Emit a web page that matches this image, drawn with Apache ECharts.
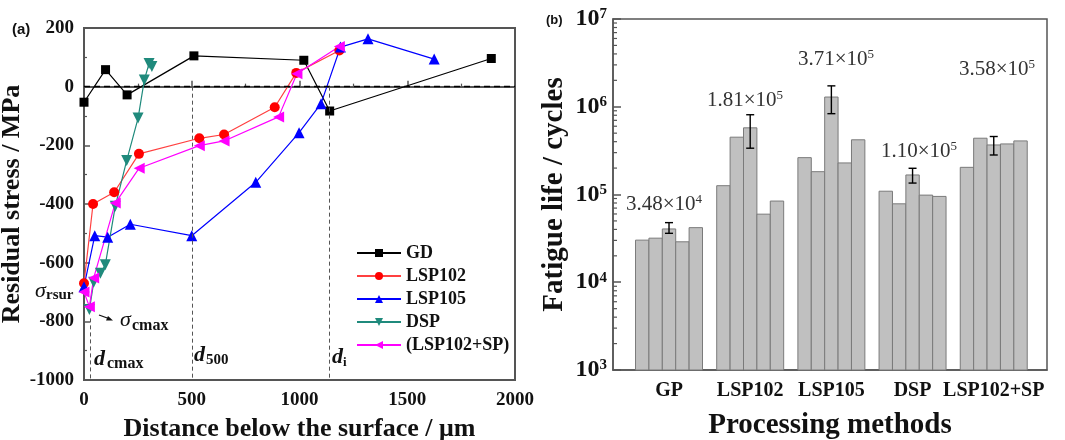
<!DOCTYPE html>
<html><head><meta charset="utf-8">
<script src="https://cdn.jsdelivr.net/npm/echarts@6/dist/echarts.min.js"></script>
<style>html,body{margin:0;padding:0;background:#fff}#c{width:1065px;height:440px}</style>
</head><body><div id="c"></div>
<script>
// ---------- Data: panel (a) residual stress ----------
const seriesNames = ['GD', 'LSP102', 'LSP105', 'DSP', '(LSP102+SP)'];
const gd = [[0,-53],[100,58],[200,-28],[510,105],[1020,90],[1140,-83],[1890,96]];
const lsp102 = [[0,-670],[42,-400],[140,-360],[255,-229],[535,-176],[650,-163],[885,-70],[985,47],[1185,123]];
const lsp105 = [[0,-682],[50,-508],[110,-513],[215,-469],[500,-508],[797,-326],[998,-157],[1100,-58],[1190,135],[1318,163],[1625,94]];
const dsp = [[25,-760],[45,-667],[76,-636],[99,-607],[145,-408],[198,-252],[251,-107],[280,23],[302,79],[315,69]];
const lsp102sp = [[0,-700],[25,-750],[45,-652],[145,-397],[256,-278],[535,-201],[650,-185],[903,-103],[988,44],[1185,137]];
const zeroLine = 0;
const depthMarks = [30, 500, 1140];       // d_cmax, d500, d_i
const depthMarkTop = [-790, 0, 0];
const xTicksA = [0, 500, 1000, 1500, 2000];
const yTicksA = [-1000, -800, -600, -400, -200, 0, 200];

// ---------- Data: panel (b) fatigue life ----------
const categories = ['GP', 'LSP102', 'LSP105', 'DSP', 'LSP102+SP'];
const lifeGP = [30200, 31800, 40500, 28900, 41900];
const lifeLSP102 = [126000, 450000, 575000, 59700, 84200];
const lifeLSP105 = [263000, 182000, 1290000, 229000, 420000];
const lifeDSP = [109000, 78300, 167000, 98400, 95100];
const lifeLSP102SP = [204000, 438000, 367000, 377000, 408000];
const errLow = [36100, 337000, 834000, 135000, 282000];
const errHigh = [47800, 811000, 1730000, 199000, 458000];
const meanLabels = ['3.48×10', '1.81×10', '3.71×10', '1.10×10', '3.58×10'];
const meanExp = ['4', '5', '5', '5', '5'];
const yTicksB = [1e3, 1e4, 1e5, 1e6, 1e7];

// ---------- Build ----------
const lifeGroups = [lifeGP, lifeLSP102, lifeLSP105, lifeDSP, lifeLSP102SP];
const BW = 0.165;           // bar width in category units
const XMIN = 0.31, XMAX = 5.656;
const barData = [];
lifeGroups.forEach((g, i) => g.forEach((v, j) => barData.push([i + 1 + (j - 2) * BW, v])));
const errData = errLow.map((lo, i) => [i + 1, lo, errHigh[i]]);
const minorLog = [];
for (let d = 3; d < 7; d++) for (let k = 2; k <= 9; k++) minorLog.push([XMIN, k * Math.pow(10, d)]);

const serif = 'Liberation Serif';
const chart = echarts.init(document.getElementById('c'), null, {renderer: 'canvas'});

function lineSeries(name, data, color, symbol, rot, size, lineColor) {
  return {
    name, type: 'line', data, xAxisIndex: 0, yAxisIndex: 0,
    symbol, symbolSize: size, symbolRotate: rot,
    itemStyle: {color}, lineStyle: {color: lineColor || color, width: 1.2},
    emphasis: {disabled: true}, animation: false
  };
}
const sGD = lineSeries(seriesNames[0], gd, '#000', 'rect', 0, 9);
sGD.markLine = {
  silent: true, symbol: 'none', animation: false, label: {show: false},
  data: [
    {yAxis: zeroLine, lineStyle: {color: '#000', type: [6, 4], width: 1.3}},
    ...depthMarks.map((x, i) => [
      {coord: [x, depthMarkTop[i]], lineStyle: {color: '#555', type: [4, 3], width: 1}},
      {coord: [x, -1000]}
    ])
  ]
};

const axisCommonA = {
  axisLine: {show: true, lineStyle: {color: '#555', width: 2}},
  axisTick: {show: true, inside: true, length: 6, lineStyle: {color: '#555', width: 1.5}},
  minorTick: {show: true, splitNumber: 2, length: 3, lineStyle: {color: '#555', width: 1.2}},
  splitLine: {show: false},
  axisLabel: {fontFamily: serif, fontWeight: 'bold', fontSize: 19, color: '#111', formatter: v => String(v)}
};

const option = {
  animation: false,
  backgroundColor: '#fff',
  grid: [
    {left: 84, right: 550, top: 28, bottom: 60, show: true, borderColor: '#555', borderWidth: 2, backgroundColor: 'transparent', containLabel: false, outerBoundsMode: 'none'},
    {left: 613, right: 18, top: 19, bottom: 70, show: true, borderColor: '#555', borderWidth: 1.5, backgroundColor: 'transparent', containLabel: false, outerBoundsMode: 'none'}
  ],
  legend: {
    data: seriesNames, orient: 'vertical', left: 351, top: 239,
    itemWidth: 44, itemHeight: 10, itemGap: 5,
    textStyle: {fontFamily: serif, fontWeight: 'bold', fontSize: 18, color: '#111', lineHeight: 18}
  },
  xAxis: [
    Object.assign({}, axisCommonA, {
      type: 'value', gridIndex: 0, min: 0, max: 2000, interval: 500,
      axisLabel: Object.assign({}, axisCommonA.axisLabel, {margin: 11}),
      name: 'Distance below the surface / μm', nameLocation: 'middle', nameGap: 36,
      nameTextStyle: {fontFamily: serif, fontWeight: 'bold', fontSize: 26, color: '#111'}
    }),
    {
      type: 'value', gridIndex: 1, min: XMIN, max: XMAX,
      axisLine: {show: true, lineStyle: {color: '#555', width: 1.5}},
      axisTick: {show: false}, splitLine: {show: false},
      axisLabel: {
        customValues: [1, 2, 3, 4, 5], margin: 11,
        formatter: v => categories[Math.round(v) - 1] || '',
        fontFamily: serif, fontWeight: 'bold', fontSize: 20, color: '#111'
      },
      name: 'Processing methods', nameLocation: 'middle', nameGap: 41,
      nameTextStyle: {fontFamily: serif, fontWeight: 'bold', fontSize: 29, color: '#111'}
    }
  ],
  yAxis: [
    Object.assign({}, axisCommonA, {
      type: 'value', gridIndex: 0, min: -1000, max: 200, interval: 200,
      axisLabel: Object.assign({}, axisCommonA.axisLabel, {margin: 10}),
      name: 'Residual stress / MPa', nameLocation: 'middle', nameGap: 50, nameRotate: 90,
      nameTextStyle: {fontFamily: serif, fontWeight: 'bold', fontSize: 26, color: '#111'}
    }),
    {
      type: 'log', gridIndex: 1, min: 1e3, max: 1e7, logBase: 10,
      axisLine: {show: true, lineStyle: {color: '#555', width: 1.5}},
      axisTick: {show: true, inside: true, length: 8, lineStyle: {color: '#555', width: 1.5}},
      splitLine: {show: false},
      axisLabel: {
        margin: 6,
        formatter: v => '{b|10}{s|' + Math.round(Math.log10(v)) + '}',
        rich: {
          b: {fontFamily: serif, fontWeight: 'bold', fontSize: 24, color: '#111', lineHeight: 24},
          s: {fontFamily: serif, fontWeight: 'bold', fontSize: 15, color: '#111', verticalAlign: 'top', lineHeight: 24, padding: [0, 0, 10, 0]}
        }
      },
      name: 'Fatigue life / cycles', nameLocation: 'middle', nameGap: 44, nameRotate: 90,
      nameTextStyle: {fontFamily: serif, fontWeight: 'bold', fontSize: 29, color: '#111'}
    }
  ],
  series: [
    sGD,
    lineSeries(seriesNames[1], lsp102, '#ff0000', 'circle', 0, 10, '#ff4040'),
    lineSeries(seriesNames[2], lsp105, '#0000ff', 'triangle', 0, 11),
    lineSeries(seriesNames[3], dsp, '#1f8a7c', 'triangle', 180, 11),
    lineSeries(seriesNames[4], lsp102sp, '#ff00ff', 'triangle', 90, 11),
    {
      type: 'custom', xAxisIndex: 1, yAxisIndex: 1, data: barData, silent: true, z: 2,
      encode: {x: 0, y: 1},
      renderItem: (params, api) => {
        const x = api.value(0), y = api.value(1);
        const p1 = api.coord([x - BW / 2, y]);
        const p0 = api.coord([x + BW / 2, 1e3]);
        return {type: 'rect', shape: {x: p1[0], y: p1[1], width: p0[0] - p1[0], height: p0[1] - p1[1]},
          style: {fill: '#c0c0c0', stroke: '#7a7a7a', lineWidth: 1}};
      }
    },
    {
      type: 'custom', xAxisIndex: 1, yAxisIndex: 1, data: errData, silent: true, z: 3,
      encode: {x: 0, y: [1, 2]},
      renderItem: (params, api) => {
        const x = api.value(0);
        const lo = api.coord([x, api.value(1)]);
        const hi = api.coord([x, api.value(2)]);
        const c = 4;
        const st = {stroke: '#000', lineWidth: 1.4};
        return {type: 'group', children: [
          {type: 'line', shape: {x1: lo[0], y1: lo[1], x2: hi[0], y2: hi[1]}, style: st},
          {type: 'line', shape: {x1: lo[0] - c, y1: lo[1], x2: lo[0] + c, y2: lo[1]}, style: st},
          {type: 'line', shape: {x1: hi[0] - c, y1: hi[1], x2: hi[0] + c, y2: hi[1]}, style: st}
        ]};
      }
    },
    {
      type: 'custom', xAxisIndex: 1, yAxisIndex: 1, data: minorLog, silent: true, z: 4,
      encode: {x: 0, y: 1},
      renderItem: (params, api) => {
        const p = api.coord([api.value(0), api.value(1)]);
        return {type: 'line', shape: {x1: p[0], y1: p[1], x2: p[0] + 4, y2: p[1]}, style: {stroke: '#555', lineWidth: 1.2}};
      }
    }
  ],
  graphic: [
    {type: 'text', left: 12, top: 22, style: {text: '(a)', font: 'bold 15px Liberation Sans', fill: '#111'}},
    {type: 'text', left: 546, top: 14, style: {text: '(b)', font: 'bold 13px Liberation Sans', fill: '#111'}},
    {type: 'text', x: 35, y: 280, style: {text: 'σ', font: 'italic 22px Liberation Serif', fill: '#111'}},
    {type: 'text', x: 46, y: 288, style: {text: 'rsur', font: 'bold 15px Liberation Serif', fill: '#111'}},
    {type: 'polyline', shape: {points: [[99, 315], [110, 319]]}, style: {stroke: '#111', lineWidth: 1.3}},
    {type: 'polygon', shape: {points: [[113, 320.5], [106, 320.5], [108, 316]]}, style: {fill: '#111'}},
    {type: 'text', x: 120, y: 309, style: {text: 'σ', font: 'italic 22px Liberation Serif', fill: '#111'}},
    {type: 'text', x: 132, y: 318, style: {text: 'cmax', font: 'bold 16px Liberation Serif', fill: '#111'}},
    {type: 'text', x: 94, y: 348, style: {text: 'd', font: 'bold italic 22px Liberation Serif', fill: '#111'}},
    {type: 'text', x: 107, y: 356, style: {text: 'cmax', font: 'bold 16px Liberation Serif', fill: '#111'}},
    {type: 'text', x: 194, y: 344, style: {text: 'd', font: 'bold italic 22px Liberation Serif', fill: '#111'}},
    {type: 'text', x: 206, y: 353, style: {text: '500', font: 'bold 15px Liberation Serif', fill: '#111'}},
    {type: 'text', x: 332, y: 346, style: {text: 'd', font: 'bold italic 22px Liberation Serif', fill: '#111'}},
    {type: 'text', x: 343, y: 356, style: {text: 'i', font: 'bold 13px Liberation Serif', fill: '#111'}},
    ...meanLabels.map((t, i) => {
      const pos = [[664, 204], [745, 100], [836, 59], [919, 151], [997, 69]][i];
      return {type: 'text', x: pos[0], y: pos[1], style: {
        text: '{m|' + t + '}{s|' + meanExp[i] + '}', align: 'center', verticalAlign: 'middle',
        rich: {
          m: {fontFamily: serif, fontSize: 21, fill: '#333', lineHeight: 22},
          s: {fontFamily: serif, fontSize: 13, fill: '#333', verticalAlign: 'top', lineHeight: 22, padding: [0, 0, 10, 0]}
        }
      }};
    })
  ]
};
chart.setOption(option);
</script></body></html>
